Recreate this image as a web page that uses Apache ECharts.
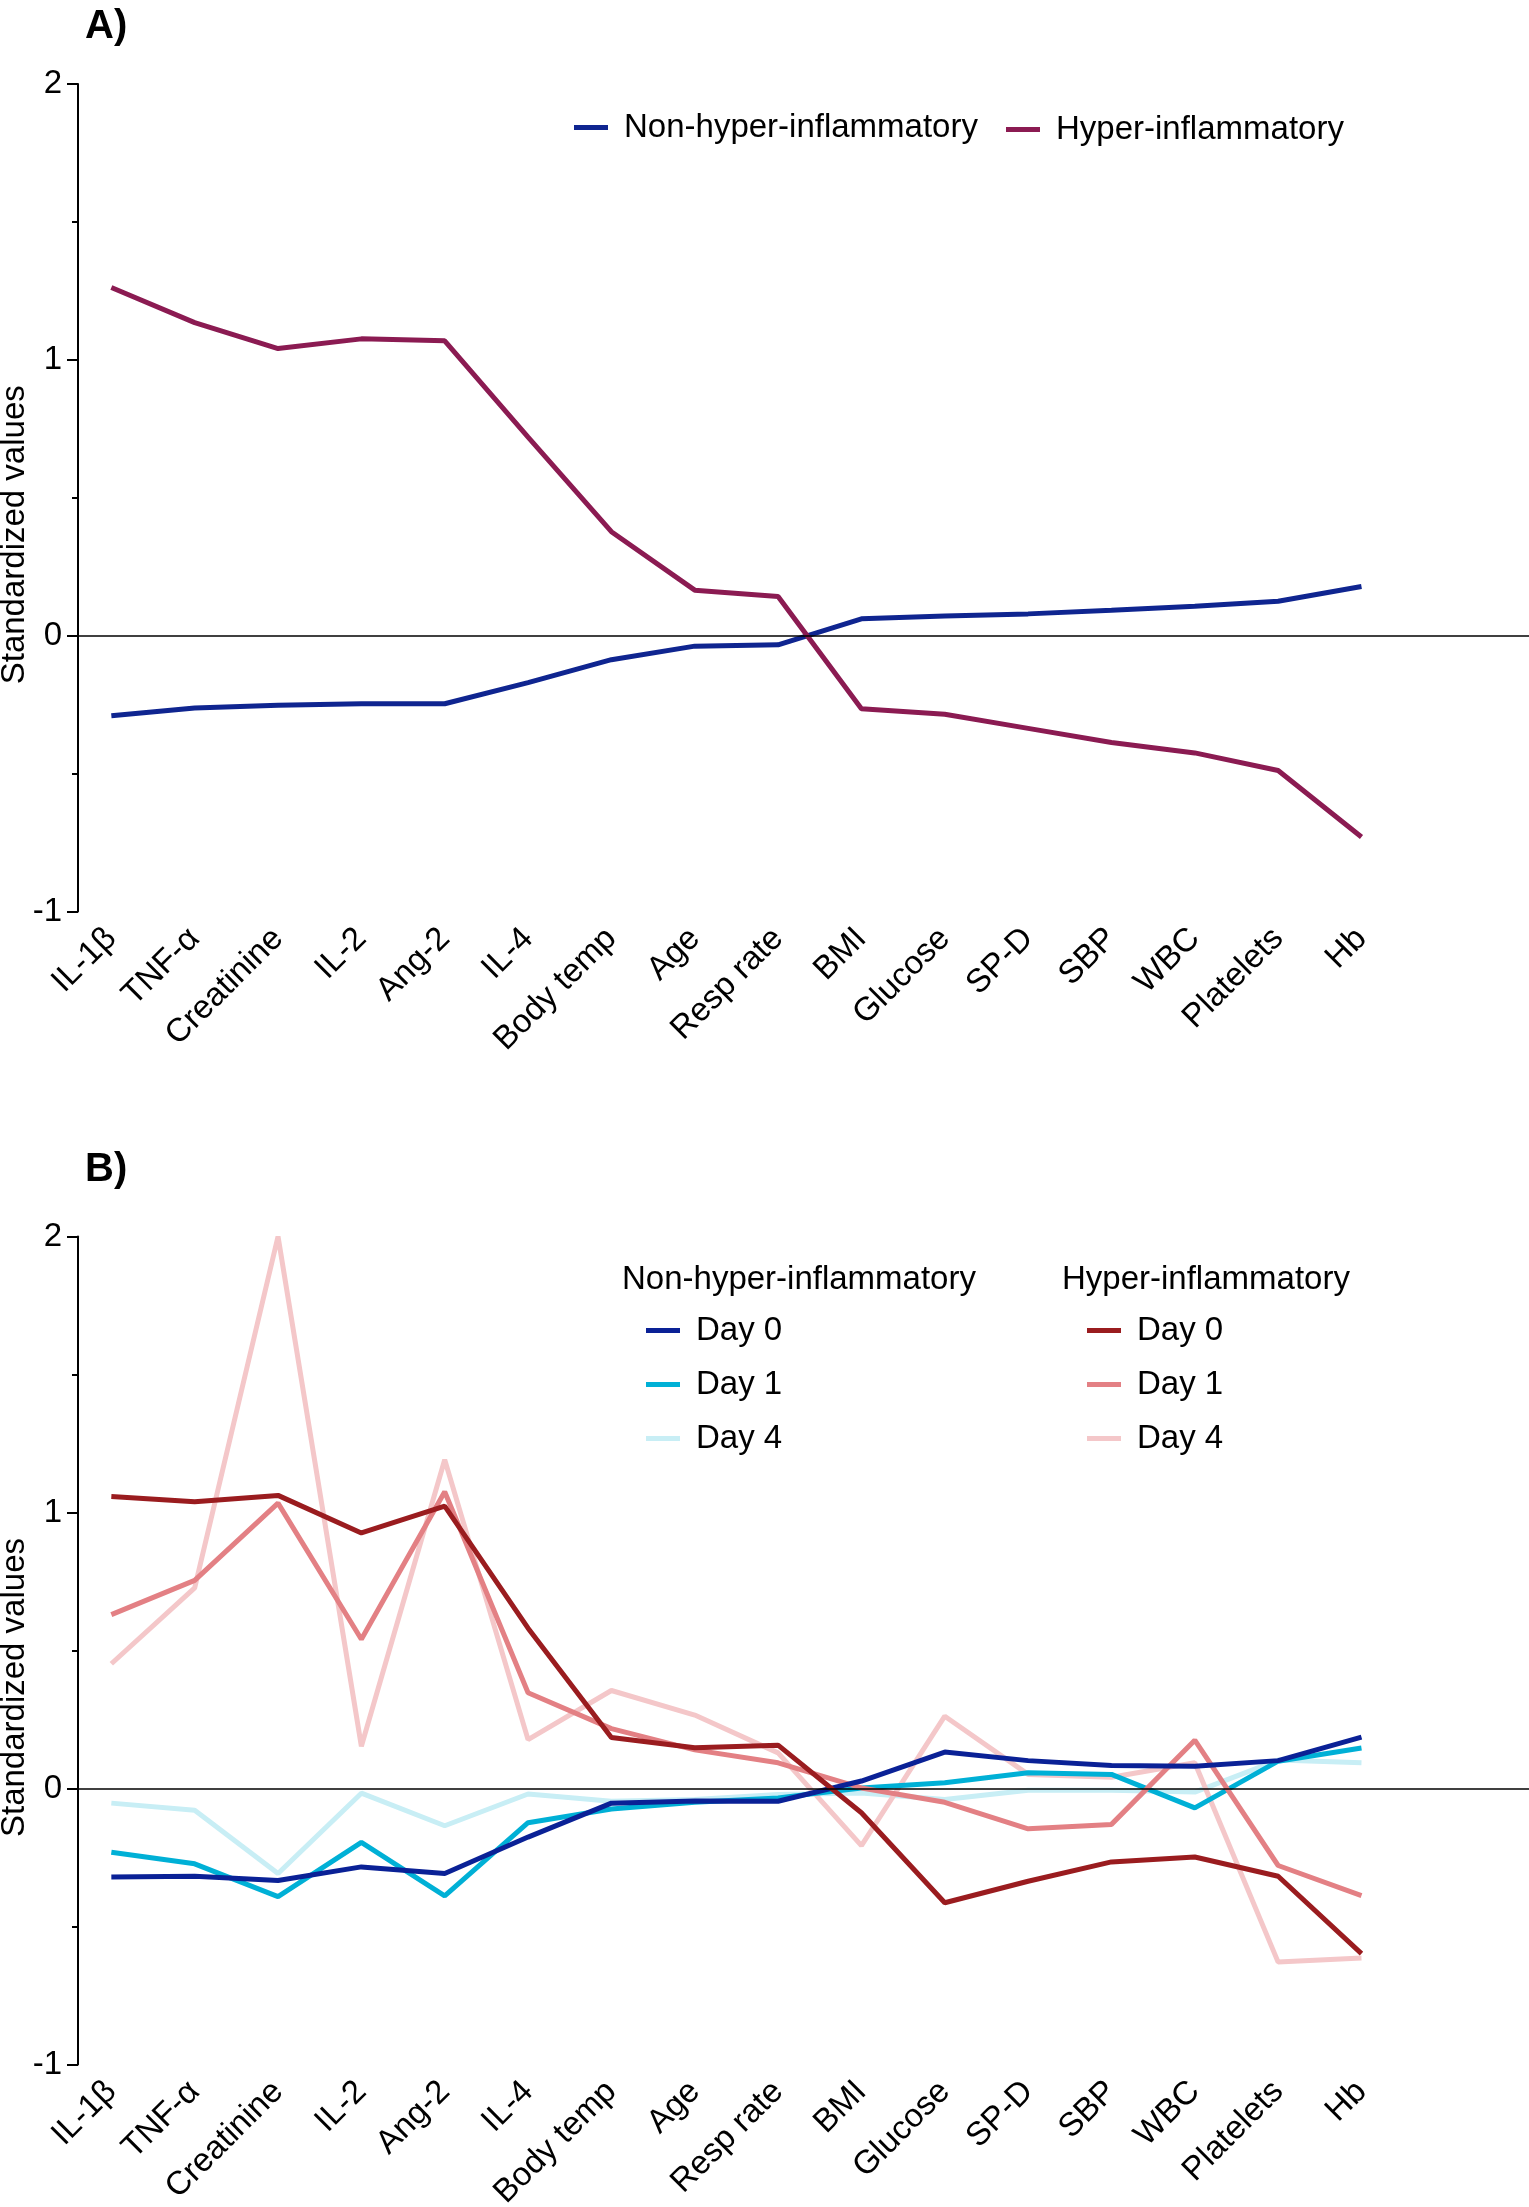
<!DOCTYPE html>
<html>
<head>
<meta charset="utf-8">
<script src="https://cdn.jsdelivr.net/npm/echarts@6/dist/echarts.min.js"></script>
<style>
  html, body { margin: 0; padding: 0; background: #fff; }
  #chart { width: 1529px; height: 2207px; }
</style>
</head>
<body>
<div id="chart"></div>
<script>
var categories = ['IL-1β', 'TNF-α', 'Creatinine', 'IL-2', 'Ang-2', 'IL-4', 'Body temp', 'Age',
    'Resp rate', 'BMI', 'Glucose', 'SP-D', 'SBP', 'WBC', 'Platelets', 'Hb'];
var yTicks = [-1, 0, 1, 2];

// panel A
var nonHyperA = [-0.29, -0.262, -0.252, -0.247, -0.247, -0.17, -0.087, -0.038, -0.033, 0.061, 0.071, 0.079, 0.092, 0.107, 0.125, 0.178];
var hyperA = [1.262, 1.135, 1.041, 1.076, 1.069, 0.72, 0.377, 0.165, 0.142, -0.265, -0.285, -0.336, -0.387, -0.425, -0.489, -0.73];

// panel B
var nonDay0 = [-0.321, -0.318, -0.333, -0.284, -0.308, -0.176, -0.053, -0.045, -0.046, 0.027, 0.132, 0.101, 0.083, 0.081, 0.101, 0.186];
var nonDay1 = [-0.231, -0.273, -0.392, -0.195, -0.389, -0.124, -0.074, -0.05, -0.034, 0.002, 0.021, 0.057, 0.051, -0.07, 0.099, 0.147];
var nonDay4 = [-0.053, -0.079, -0.308, -0.017, -0.135, -0.02, -0.046, -0.04, -0.022, -0.016, -0.04, -0.006, -0.006, -0.013, 0.103, 0.093];
var hyperDay0 = [1.058, 1.039, 1.062, 0.926, 1.023, 0.581, 0.185, 0.148, 0.157, -0.088, -0.414, -0.336, -0.266, -0.248, -0.318, -0.598];
var hyperDay1 = [0.63, 0.754, 1.034, 0.541, 1.075, 0.347, 0.217, 0.14, 0.093, 0.002, -0.05, -0.146, -0.13, 0.175, -0.279, -0.388];
var hyperDay4 = [0.452, 0.727, 2.0, 0.153, 1.191, 0.177, 0.355, 0.266, 0.129, -0.207, 0.262, 0.051, 0.041, 0.093, -0.629, -0.614];

var FONT = '"Liberation Sans", Arial, Helvetica, sans-serif';
var catIdx = categories.map(function (c, i) { return i; });

function pts(arr) {
    return arr.map(function (v, i) { return [i, v]; });
}

function xAxisFor(gridIndex) {
    return {
        type: 'value', gridIndex: gridIndex, min: -0.4, max: 17.01,
        axisLine: { show: false, onZero: false }, axisTick: { show: false }, splitLine: { show: false },
        axisLabel: {
            customValues: catIdx, rotate: 45, margin: 22,
            fontSize: 33, color: '#000', fontFamily: FONT,
            formatter: function (v) { return categories[v]; }
        }
    };
}

function yAxisFor(gridIndex) {
    return {
        type: 'value', gridIndex: gridIndex, min: -1, max: 2, interval: 1,
        name: 'Standardized values', nameLocation: 'middle', nameGap: 47, nameMoveOverlap: false,
        nameTextStyle: { fontSize: 33, color: '#000', fontFamily: FONT, padding: [0, 74, 0, 0] },
        axisLine: { show: true, onZero: false, lineStyle: { color: '#000', width: 2 } },
        axisTick: { show: true, length: 11, lineStyle: { color: '#000', width: 2 } },
        minorTick: { show: true, splitNumber: 2, length: 6, lineStyle: { color: '#000', width: 2 } },
        splitLine: { show: false },
        axisLabel: {
            fontSize: 33, color: '#000', fontFamily: FONT, margin: 16,
            customValues: yTicks,
            formatter: function (v) { return String(v); }
        }
    };
}

function line(name, data, color, xi, withZero) {
    var s = {
        name: name, type: 'line', xAxisIndex: xi, yAxisIndex: xi,
        data: pts(data), symbol: 'none', smooth: false,
        lineStyle: { color: color, width: 5 }, itemStyle: { color: color },
        emphasis: { disabled: true }, animation: false
    };
    if (withZero) {
        s.markLine = {
            silent: true, symbol: 'none', animation: false,
            label: { show: false },
            lineStyle: { color: '#000', width: 1.5, type: 'solid' },
            data: [{ yAxis: 0 }]
        };
    }
    return s;
}

var legendBase = {
    icon: 'rect', itemWidth: 34, itemHeight: 5, orient: 'vertical', itemGap: 21,
    padding: 0, selectedMode: false,
    textStyle: { fontSize: 33, color: '#000', fontFamily: FONT, padding: [0, 0, 0, 11] },
    formatter: function (n) { return n.replace(/^(Non|Hyper) /, ''); }
};
function legendAt(left, top, data) {
    return Object.assign({}, legendBase, { left: left, top: top, data: data });
}

var myChart = echarts.init(document.getElementById('chart'), null, { renderer: 'canvas' });

var option = {
    backgroundColor: '#fff',
    animation: false,
    title: [
        { text: 'A)', left: 85, top: 7, padding: 0, textStyle: { fontSize: 40, fontWeight: 'bold', color: '#000', fontFamily: FONT } },
        { text: 'B)', left: 85, top: 1150, padding: 0, textStyle: { fontSize: 40, fontWeight: 'bold', color: '#000', fontFamily: FONT } },
        { text: 'Non-hyper-inflammatory', left: 622, top: 1263, padding: 0, textStyle: { fontSize: 33, fontWeight: 'normal', color: '#000', fontFamily: FONT } },
        { text: 'Hyper-inflammatory', left: 1062, top: 1263, padding: 0, textStyle: { fontSize: 33, fontWeight: 'normal', color: '#000', fontFamily: FONT } }
    ],
    legend: [
        legendAt(574, 111, ['Non-hyper-inflammatory']),
        legendAt(1006, 113, ['Hyper-inflammatory']),
        legendAt(646, 1314, ['Non Day 0', 'Non Day 1', 'Non Day 4']),
        legendAt(1087, 1314, ['Hyper Day 0', 'Hyper Day 1', 'Hyper Day 4'])
    ],
    grid: [
        { left: 78, right: 0, top: 84, height: 827.5, containLabel: false, outerBoundsMode: 'none' },
        { left: 78, right: 0, top: 1236.5, height: 828, containLabel: false, outerBoundsMode: 'none' }
    ],
    xAxis: [xAxisFor(0), xAxisFor(1)],
    yAxis: [yAxisFor(0), yAxisFor(1)],
    series: [
        line('Non-hyper-inflammatory', nonHyperA, '#0f2590', 0, true),
        line('Hyper-inflammatory', hyperA, '#8b1b52', 0, false),
        line('Non Day 4', nonDay4, '#c8eef5', 1, true),
        line('Hyper Day 4', hyperDay4, '#f4c7c9', 1, false),
        line('Non Day 1', nonDay1, '#00b0d6', 1, false),
        line('Hyper Day 1', hyperDay1, '#e38084', 1, false),
        line('Non Day 0', nonDay0, '#0a2196', 1, false),
        line('Hyper Day 0', hyperDay0, '#9a1c1f', 1, false)
    ]
};

myChart.setOption(option);
</script>
</body>
</html>
